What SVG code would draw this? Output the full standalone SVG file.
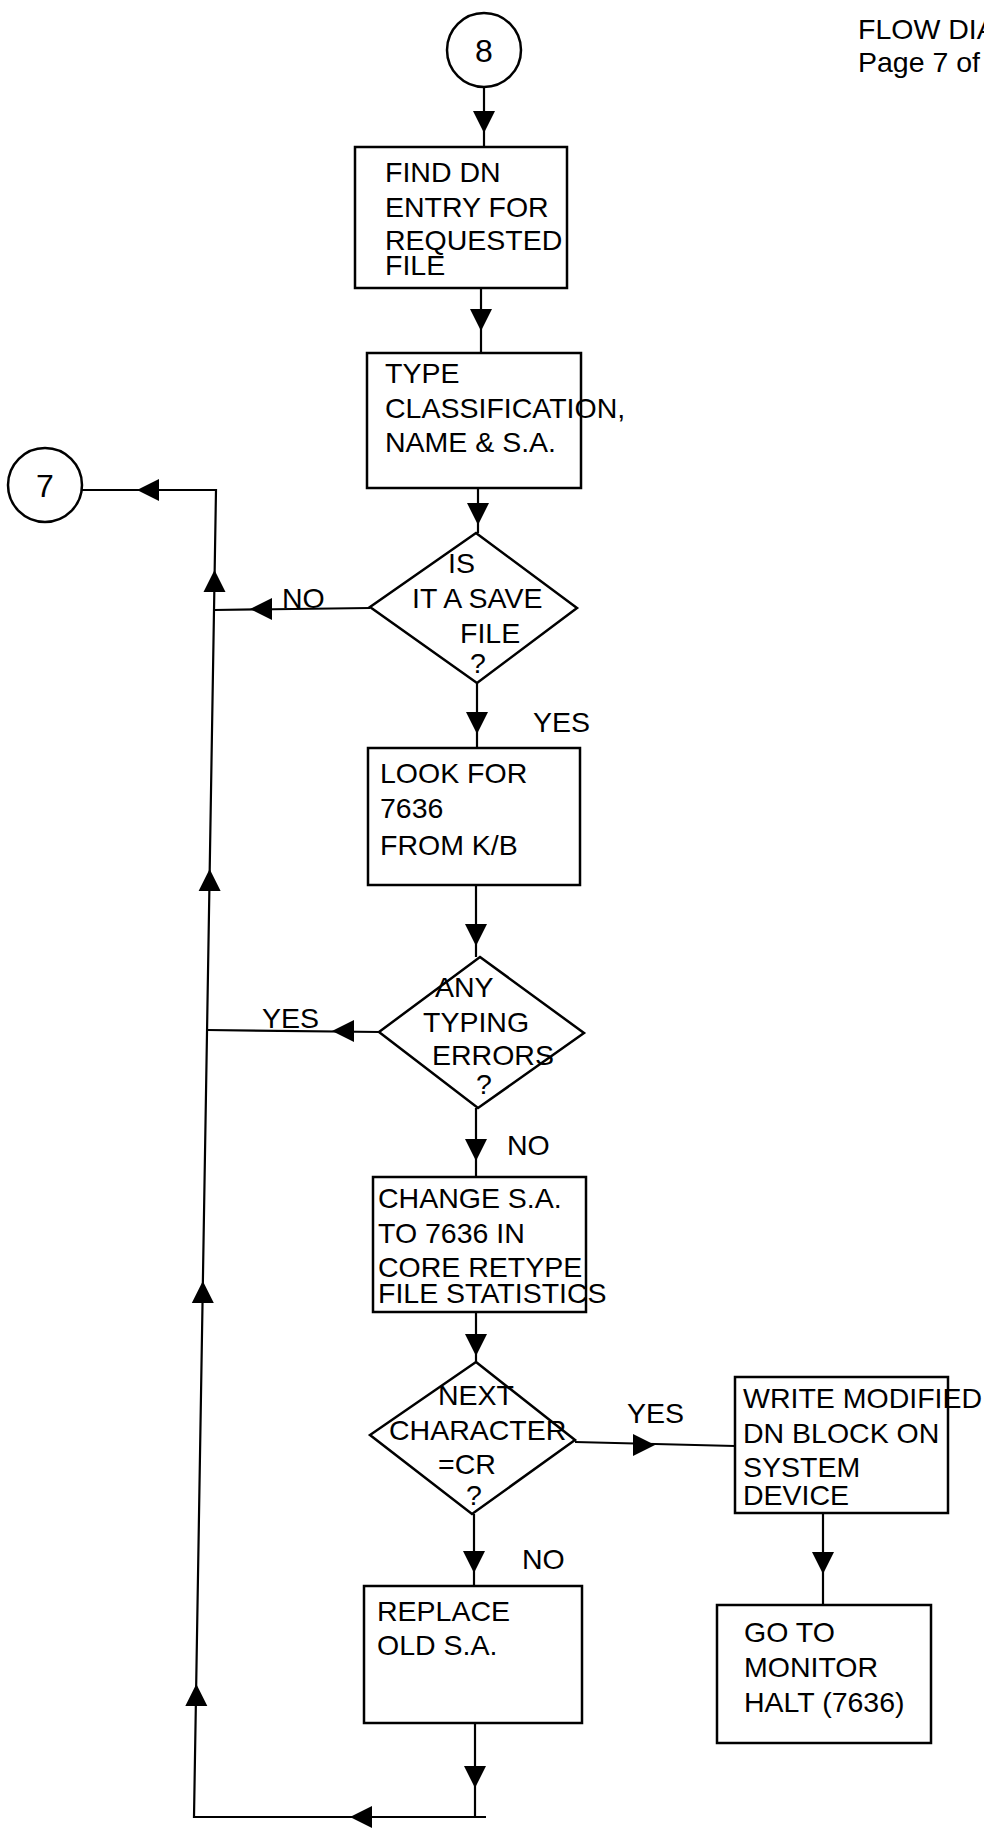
<svg xmlns="http://www.w3.org/2000/svg" xmlns:xlink="http://www.w3.org/1999/xlink" width="984" height="1830" viewBox="0 0 984 1830">
<style>
.bg{fill:#fff}
.box{fill:none;stroke:#000;stroke-width:2.5}
.ln{fill:none;stroke:#000;stroke-width:2.2}
.t{font-family:"Liberation Sans",Arial,sans-serif;font-size:28.5px;fill:#000}
.num{font-family:"Liberation Sans",Arial,sans-serif;font-size:32px;fill:#000;text-anchor:middle}
.ah{fill:#000}
</style>
<defs>
<path id="ah" class="ah" d="M-11,-11 L11,-11 L0,11 Z"/>
</defs>
<rect class="bg" x="0" y="0" width="984" height="1830"/>

<g id="header">
<text class="t" x="858" y="39">FLOW DIA</text>
<text class="t" x="858" y="72">Page 7 of</text>
</g>

<g id="connectors">
<path class="ln" d="M484,87 L484,147"/>
<path class="ln" d="M481,288 L481,353"/>
<path class="ln" d="M478,488 L478,533"/>
<path class="ln" d="M477,683 L477,748"/>
<path class="ln" d="M476,885 L476,957"/>
<path class="ln" d="M476,1108 L476,1177"/>
<path class="ln" d="M476,1312 L476,1362"/>
<path class="ln" d="M474,1514 L474,1586"/>
<path class="ln" d="M475,1724 L475,1817"/>
<path class="ln" d="M486,1817 L194,1817 L216,490 L82,490"/>
<path class="ln" d="M370,608 L214,610"/>
<path class="ln" d="M380,1032 L207,1030"/>
<path class="ln" d="M575,1442 L735,1446"/>
<path class="ln" d="M823,1513 L823,1605"/>
<use xlink:href="#ah" transform="translate(484,122)"/>
<use xlink:href="#ah" transform="translate(481,320)"/>
<use xlink:href="#ah" transform="translate(478,514)"/>
<use xlink:href="#ah" transform="translate(477,723)"/>
<use xlink:href="#ah" transform="translate(476,935)"/>
<use xlink:href="#ah" transform="translate(476,1150)"/>
<use xlink:href="#ah" transform="translate(476,1345)"/>
<use xlink:href="#ah" transform="translate(474,1562)"/>
<use xlink:href="#ah" transform="translate(475,1777)"/>
<use xlink:href="#ah" transform="translate(823,1563)"/>
<use xlink:href="#ah" transform="translate(361,1817) rotate(90)"/>
<use xlink:href="#ah" transform="translate(148,490) rotate(90)"/>
<use xlink:href="#ah" transform="translate(261,609) rotate(90)"/>
<use xlink:href="#ah" transform="translate(343,1031) rotate(90)"/>
<use xlink:href="#ah" transform="translate(644,1445) rotate(-90)"/>
<use xlink:href="#ah" transform="translate(196.3,1695) rotate(180)"/>
<use xlink:href="#ah" transform="translate(202.8,1292) rotate(180)"/>
<use xlink:href="#ah" transform="translate(209.6,880) rotate(180)"/>
<use xlink:href="#ah" transform="translate(214.5,581) rotate(180)"/>
<text class="t" x="282" y="608">NO</text>
<text class="t" x="533" y="732">YES</text>
<text class="t" x="262" y="1028">YES</text>
<text class="t" x="507" y="1155">NO</text>
<text class="t" x="627" y="1423">YES</text>
<text class="t" x="522" y="1569">NO</text>
</g>

<g id="c8">
<circle class="box" cx="484" cy="50" r="37"/>
<text class="num" x="484" y="62">8</text>
</g>

<g id="c7">
<circle class="box" cx="45" cy="485" r="37"/>
<text class="num" x="45" y="497">7</text>
</g>

<g id="find">
<rect class="box" x="355" y="147" width="212" height="141"/>
<text class="t" x="385" y="182">FIND DN</text>
<text class="t" x="385" y="217">ENTRY FOR</text>
<text class="t" x="385" y="250">REQUESTED</text>
<text class="t" x="385" y="275">FILE</text>
</g>

<g id="type">
<rect class="box" x="367" y="353" width="214" height="135"/>
<text class="t" x="385" y="383">TYPE</text>
<text class="t" x="385" y="418">CLASSIFICATION,</text>
<text class="t" x="385" y="452">NAME &amp; S.A.</text>
</g>

<g id="save">
<path class="box" d="M476,533 L577,608 L477,683 L370,607 Z"/>
<text class="t" x="448" y="573">IS</text>
<text class="t" x="412" y="608">IT A SAVE</text>
<text class="t" x="460" y="643">FILE</text>
<text class="t" x="470" y="673">?</text>
</g>

<g id="look">
<rect class="box" x="368" y="748" width="212" height="137"/>
<text class="t" x="380" y="783">LOOK FOR</text>
<text class="t" x="380" y="818">7636</text>
<text class="t" x="380" y="855">FROM K/B</text>
</g>

<g id="errors">
<path class="box" d="M480,957 L584,1033 L478,1108 L379,1032 Z"/>
<text class="t" x="435" y="997">ANY</text>
<text class="t" x="423" y="1032">TYPING</text>
<text class="t" x="432" y="1065">ERRORS</text>
<text class="t" x="476" y="1094">?</text>
</g>

<g id="change">
<rect class="box" x="373" y="1177" width="213" height="135"/>
<text class="t" x="378" y="1208">CHANGE S.A.</text>
<text class="t" x="378" y="1243">TO 7636 IN</text>
<text class="t" x="378" y="1277">CORE RETYPE</text>
<text class="t" x="378" y="1303">FILE STATISTICS</text>
</g>

<g id="next">
<path class="box" d="M476,1362 L575,1440 L472,1514 L370,1435 Z"/>
<text class="t" x="438" y="1405">NEXT</text>
<text class="t" x="389" y="1440">CHARACTER</text>
<text class="t" x="438" y="1474">=CR</text>
<text class="t" x="466" y="1505">?</text>
</g>

<g id="replace">
<rect class="box" x="364" y="1586" width="218" height="137"/>
<text class="t" x="377" y="1621">REPLACE</text>
<text class="t" x="377" y="1655">OLD S.A.</text>
</g>

<g id="write">
<rect class="box" x="735" y="1377" width="213" height="136"/>
<text class="t" x="743" y="1408">WRITE MODIFIED</text>
<text class="t" x="743" y="1443">DN BLOCK ON</text>
<text class="t" x="743" y="1477">SYSTEM</text>
<text class="t" x="743" y="1505">DEVICE</text>
</g>

<g id="halt">
<rect class="box" x="717" y="1605" width="214" height="138"/>
<text class="t" x="744" y="1642">GO TO</text>
<text class="t" x="744" y="1677">MONITOR</text>
<text class="t" x="744" y="1712">HALT (7636)</text>
</g>
</svg>
